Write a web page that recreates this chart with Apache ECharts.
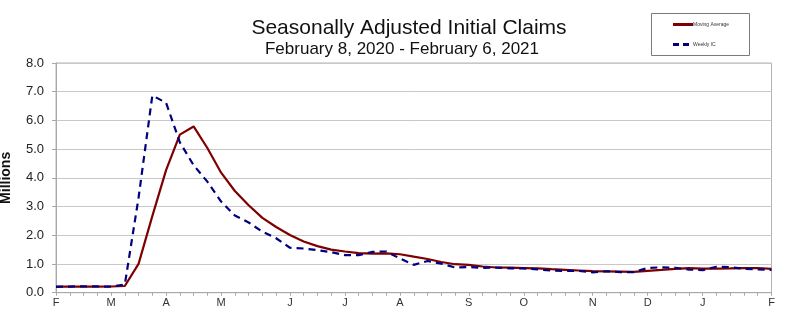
<!DOCTYPE html>
<html>
<head>
<meta charset="utf-8">
<script src="https://cdn.jsdelivr.net/npm/echarts@6/dist/echarts.min.js"></script>
<style>
  html, body { margin: 0; padding: 0; background: #ffffff; }
  #chart { width: 804px; height: 324px; }
</style>
</head>
<body>
<div id="chart"></div>
<script>
// Week-ending dates (Saturday), Feb 8, 2020 - Feb 6, 2021
const weeks = [
  "2020-02-08","2020-02-15","2020-02-22","2020-02-29","2020-03-07","2020-03-14","2020-03-21","2020-03-28",
  "2020-04-04","2020-04-11","2020-04-18","2020-04-25","2020-05-02","2020-05-09","2020-05-16","2020-05-23",
  "2020-05-30","2020-06-06","2020-06-13","2020-06-20","2020-06-27","2020-07-04","2020-07-11","2020-07-18",
  "2020-07-25","2020-08-01","2020-08-08","2020-08-15","2020-08-22","2020-08-29","2020-09-05","2020-09-12",
  "2020-09-19","2020-09-26","2020-10-03","2020-10-10","2020-10-17","2020-10-24","2020-10-31","2020-11-07",
  "2020-11-14","2020-11-21","2020-11-28","2020-12-05","2020-12-12","2020-12-19","2020-12-26","2021-01-02",
  "2021-01-09","2021-01-16","2021-01-23","2021-01-30","2021-02-06"
];

// Weekly initial claims (millions)
const weeklyIC = [
  0.205, 0.215, 0.220, 0.217, 0.211, 0.282, 3.307, 6.867,
  6.615, 5.237, 4.442, 3.867, 3.176, 2.687, 2.446, 2.123,
  1.897, 1.566, 1.540, 1.482, 1.413, 1.310, 1.307, 1.422,
  1.435, 1.191, 0.971, 1.104, 1.011, 0.881, 0.893, 0.866,
  0.873, 0.849, 0.845, 0.813, 0.770, 0.757, 0.757, 0.711,
  0.748, 0.718, 0.716, 0.862, 0.885, 0.869, 0.806, 0.784,
  0.904, 0.886, 0.836, 0.812, 0.793
];

// 4-week moving average (millions)
const movingAvg = [
  0.211, 0.210, 0.210, 0.214, 0.216, 0.233, 1.004, 2.667,
  4.268, 5.507, 5.790, 5.040, 4.180, 3.543, 3.044, 2.608,
  2.288, 2.008, 1.782, 1.621, 1.500, 1.436, 1.378, 1.363,
  1.369, 1.339, 1.255, 1.175, 1.069, 0.992, 0.972, 0.913,
  0.878, 0.870, 0.858, 0.845, 0.819, 0.796, 0.774, 0.749,
  0.743, 0.734, 0.723, 0.761, 0.795, 0.833, 0.856, 0.836,
  0.841, 0.845, 0.853, 0.860, 0.832
];

// Month-initial tick labels and the week index where each appears
const monthLetters = ["J","F","M","A","M","J","J","A","S","O","N","D"];
const labelWeekIdx = [0, 4, 8, 12, 17, 21, 25, 30, 34, 39, 43, 47, 52];
const yTicks = [0, 1, 2, 3, 4, 5, 6, 7, 8];

const titleText = "Seasonally Adjusted Initial Claims";
const subtitleText = "February 8, 2020 - February 6, 2021";
const seriesNames = ["Moving Average", "Weekly IC"];

const chart = echarts.init(document.getElementById('chart'), null, { renderer: 'canvas' });

const FONT = 'Liberation Sans, Arial, sans-serif';

const option = {
  backgroundColor: '#ffffff',
  animation: false,
  title: [
    {
      text: titleText,
      left: 404, top: 13,
      textAlign: 'center',
      textStyle: { fontFamily: FONT, fontSize: 21, fontWeight: 'normal', color: '#111' }
    },
    {
      text: subtitleText,
      left: 397, top: 36,
      textAlign: 'center',
      textStyle: { fontFamily: FONT, fontSize: 17, fontWeight: 'normal', color: '#111' }
    }
  ],
  graphic: [
    {
      type: 'rect',
      z: 0,
      shape: { x: 651.5, y: 13.5, width: 98, height: 42 },
      style: { fill: '#ffffff', stroke: '#7a7a7a', lineWidth: 1 }
    }
  ],
  legend: {
    data: [
      { name: seriesNames[0], icon: 'path://M0,0H20V3H0Z' },
      { name: seriesNames[1], icon: 'path://M0,0H6V3H0Z M10,0H16V3H10Z M20,0H20.01V3H20Z' }
    ],
    orient: 'vertical',
    left: 668,
    top: 17,
    itemGap: 15,
    itemWidth: 20,
    itemHeight: 3,
    z: 10,
    textStyle: { fontFamily: FONT, fontSize: 5, color: '#333', padding: [0, 0, 0, -5] }
  },
  grid: {
    left: 56, right: 32.5, top: 63, bottom: 31.3,
    show: true, borderColor: '#b4b4b4', borderWidth: 1,
    containLabel: false,
    outerBoundsMode: 'none'
  },
  xAxis: {
    type: 'category',
    data: weeks,
    boundaryGap: false,
    axisLine: { lineStyle: { color: '#a8a8a8', width: 1 } },
    axisTick: { show: true, interval: 0, length: 3, inside: false, lineStyle: { color: '#a8a8a8' } },
    axisLabel: {
      interval: function (idx) { return labelWeekIdx.indexOf(idx) !== -1; },
      formatter: function (val) { return monthLetters[parseInt(val.slice(5, 7), 10) - 1]; },
      showMinLabel: true,
      showMaxLabel: true,
      hideOverlap: false,
      margin: 5,
      fontFamily: FONT,
      fontSize: 11,
      color: '#333'
    },
    splitLine: { show: false }
  },
  yAxis: {
    type: 'value',
    min: yTicks[0], max: yTicks[yTicks.length - 1], interval: 1,
    name: 'Millions',
    nameLocation: 'middle',
    nameRotate: 90,
    nameGap: 43,
    nameTextStyle: { fontFamily: FONT, fontSize: 14, fontWeight: 'bold', color: '#111' },
    axisLine: { show: true, lineStyle: { color: '#a8a8a8', width: 1 } },
    axisTick: { show: true, length: 4, lineStyle: { color: '#a8a8a8' } },
    axisLabel: {
      formatter: function (v) { return v.toFixed(1); },
      margin: 12,
      fontFamily: FONT,
      fontSize: 13,
      color: '#222'
    },
    splitLine: { show: true, lineStyle: { color: '#c8c8c8', width: 1 } }
  },
  series: [
    {
      name: seriesNames[0],
      type: 'line',
      data: movingAvg,
      symbol: 'none',
      z: 3,
      lineStyle: { color: '#7f0000', width: 2.2, type: 'solid' },
      itemStyle: { color: '#7f0000' }
    },
    {
      name: seriesNames[1],
      type: 'line',
      data: weeklyIC,
      symbol: 'none',
      z: 4,
      lineStyle: { color: '#000080', width: 2.2, type: [7, 5] },
      itemStyle: { color: '#000080' }
    }
  ]
};

chart.setOption(option);
</script>
</body>
</html>
